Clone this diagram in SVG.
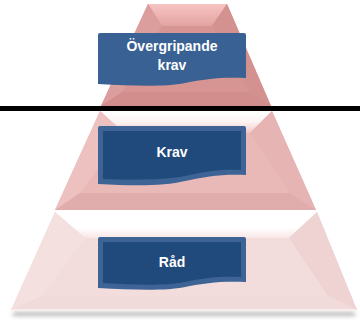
<svg xmlns="http://www.w3.org/2000/svg" width="360" height="325" viewBox="0 0 360 325">
<defs>
<linearGradient id="t1top" x1="0" y1="0" x2="0" y2="1"><stop offset="0" stop-color="#f7c4c3"/><stop offset="1" stop-color="#e2a3a1"/></linearGradient>
<linearGradient id="t2top" x1="0" y1="0" x2="0" y2="1"><stop offset="0" stop-color="#ffffff"/><stop offset="0.5" stop-color="#fdf3f3"/><stop offset="1" stop-color="#f0c6c5"/></linearGradient>
<linearGradient id="t3top" x1="0" y1="0" x2="0" y2="1"><stop offset="0" stop-color="#ffffff"/><stop offset="0.6" stop-color="#ffffff"/><stop offset="1" stop-color="#f8e6e6"/></linearGradient>
<filter id="blur" x="-10%" y="-100%" width="120%" height="300%"><feGaussianBlur stdDeviation="2"/></filter>
<style>
.lbl{font-family:"Liberation Sans",Arial,sans-serif;font-weight:bold;font-size:14px;fill:#ffffff;text-anchor:middle}
</style>
</defs>
<g id="tier3">
<polygon points="14,312 354,312 356,316 12,316" fill="#9a9a9a" opacity="0.7" filter="url(#blur)"/>
<polygon points="55,212 317,212 357,310 11,310" fill="#f3dcdc"/>
<polygon points="55,212 317,212 289,238 85,238" fill="url(#t3top)"/>
<polygon points="55,212 85,238 42,296 11,310" fill="#f5e0e0"/>
<polygon points="317,212 357,310 328,296 289,238" fill="#efd3d3"/>
<polygon points="11,310 42,296 328,296 357,310" fill="#f1dada"/>
<line x1="12" y1="310" x2="356" y2="310" stroke="#fbf1f1" stroke-width="1.5"/>
</g>
<g id="tier2">
<polygon points="100,111 272,111 316,210 55,210" fill="#e9b9b8"/>
<polygon points="100,111 272,111 250,133 124,133" fill="url(#t2top)"/>
<polygon points="100,111 124,133 80,193 55,210" fill="#edc1c0"/>
<polygon points="272,111 316,210 290,193 250,133" fill="#e6b4b3"/>
<polygon points="55,210 80,193 290,193 316,210" fill="#e1adac"/>
</g>
<g id="tier1">
<polygon points="148,4 227,4 271,106 101,106" fill="#d69593"/>
<polygon points="148,4 227,4 212,26 162,26" fill="url(#t1top)"/>
<polygon points="148,4 162,26 122,92 101,106" fill="#dc9e9c"/>
<polygon points="227,4 271,106 250,92 212,26" fill="#d39290"/>
<polygon points="101,106 122,92 250,92 271,106" fill="#d18e8c"/>
</g>
<g id="divider">
<rect x="0" y="106" width="360" height="5" fill="#000000"/>
</g>
<g id="box-overgripande">
<path d="M100,33 H244 Q246,33 246,35 V78 C220,77 205,79 185,83 C165,87 135,86 98,84 V35 Q98,33 100,33 Z" fill="#3a6193"/>
<text class="lbl" x="172" y="51">Övergripande</text>
<text class="lbl" x="172" y="70">krav</text>
</g>
<g id="box-krav">
<path d="M100,126 H244 Q246,126 246,128 V175 C220,174 205,177 185,181 C165,186 135,186 98,184 V128 Q98,126 100,126 Z" fill="#3d6495"/>
<path d="M103,131 H241 V170 C218,169 204,172 185,176 C165,180 135,180 103,179 Z" fill="#214a7c"/>
<text class="lbl" x="172" y="157">Krav</text>
</g>
<g id="box-rad">
<path d="M100,237 H244 Q246,237 246,239 V282 C220,281 205,283 185,287 C165,291 135,290 98,288 V239 Q98,237 100,237 Z" fill="#3d6495"/>
<path d="M103,242 H241 V277 C218,276 204,278 185,282 C165,286 135,285 103,283 Z" fill="#214a7c"/>
<text class="lbl" x="172" y="266.5">Råd</text>
</g>
</svg>
